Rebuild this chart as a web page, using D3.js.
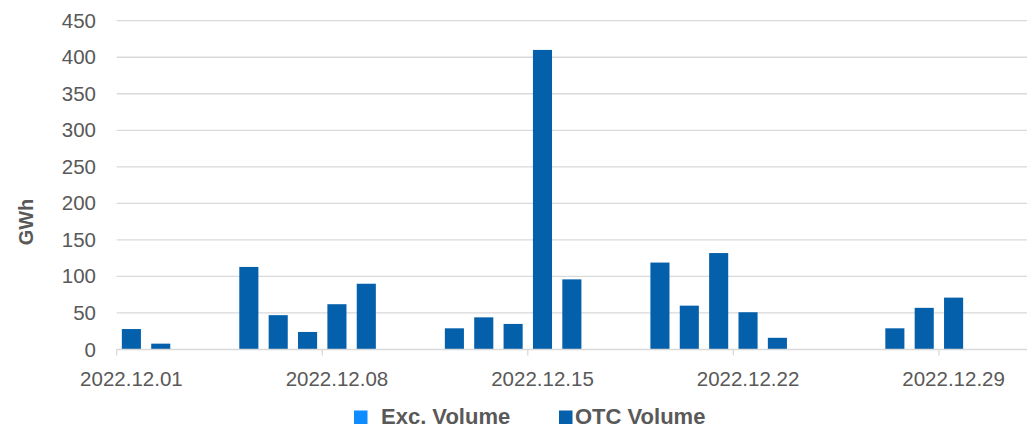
<!DOCTYPE html>
<html>
<head>
<meta charset="utf-8">
<script src="https://cdn.jsdelivr.net/npm/d3@7"></script>
<style>
  html, body { margin: 0; padding: 0; background: #ffffff; }
  svg { display: block; }
  text { font-family: "Liberation Sans", Arial, sans-serif; fill: #595959; }
</style>
</head>
<body>
<svg id="chart" width="1035" height="428"></svg>
<script>
// ---- data ----
const dates = ["2022.12.01","2022.12.02","2022.12.03","2022.12.04","2022.12.05","2022.12.06","2022.12.07",
  "2022.12.08","2022.12.09","2022.12.10","2022.12.11","2022.12.12","2022.12.13","2022.12.14",
  "2022.12.15","2022.12.16","2022.12.17","2022.12.18","2022.12.19","2022.12.20","2022.12.21",
  "2022.12.22","2022.12.23","2022.12.24","2022.12.25","2022.12.26","2022.12.27","2022.12.28",
  "2022.12.29","2022.12.30","2022.12.31"];
const excVolume = [0,0,0,0,0,0,0, 0,0,0,0,0,0,0, 0,0,0,0,0,0,0, 0,0,0,0,0,0,0, 0,0,0];
const otcVolume = [28,8,0,0,113,47,24, 62,90,0,0,29,44,35, 410,96,0,0,119,60,132, 51,16,0,0,0,29,57, 71,0,0];
const xTickLabels = ["2022.12.01","2022.12.08","2022.12.15","2022.12.22","2022.12.29"];
const yTicks = [0,50,100,150,200,250,300,350,400,450];
const seriesNames = ["Exc. Volume","OTC Volume"];
const seriesColors = ["#0F8CFF","#0560AC"];

// ---- layout ----
const svg = d3.select("#chart");
const pLeft = 116.7, pRight = 1027, pTop = 20.7, pBottom = 349.5;

const x = d3.scaleBand().domain(dates).range([pLeft, pRight])
  .paddingInner(0.35).paddingOuter(0.175);
const y = d3.scaleLinear().domain([0, 450]).range([pBottom, pTop]);

// gridlines
svg.append("g").selectAll("line").data(yTicks.filter(d => d > 0)).join("line")
  .attr("x1", pLeft).attr("x2", pRight)
  .attr("y1", d => y(d)).attr("y2", d => y(d))
  .attr("stroke", "#d9d9d9").attr("stroke-width", 1.3);

// y axis labels
const yAxis = d3.axisLeft(y).tickValues(yTicks).tickSize(0).tickPadding(0);
const gy = svg.append("g").attr("transform", `translate(96,0)`).call(yAxis);
gy.select(".domain").remove();
gy.selectAll("text").attr("font-size", 20.5).attr("fill", "#595959")
  .style("font-family", '"Liberation Sans", Arial, sans-serif');

// stacked bars
const stackData = dates.map((d, i) => ({date: d, exc: excVolume[i], otc: otcVolume[i]}));
const stack = d3.stack().keys(["exc","otc"])(stackData);
svg.append("g").selectAll("g").data(stack).join("g")
  .attr("fill", (d, i) => seriesColors[i])
  .selectAll("rect").data(d => d).join("rect")
  .attr("x", d => x(d.data.date))
  .attr("width", x.bandwidth())
  .attr("y", d => y(d[1]))
  .attr("height", d => Math.max(0, y(d[0]) - y(d[1])));

// x axis line
svg.append("line").attr("x1", pLeft).attr("x2", pRight)
  .attr("y1", pBottom).attr("y2", pBottom)
  .attr("stroke", "#d9d9d9").attr("stroke-width", 1.3);

// x tick marks at band edges (weekly)
const edge = d => x(d) - x.step() * x.paddingOuter();
svg.append("g").selectAll("line").data(xTickLabels).join("line")
  .attr("x1", d => edge(d)).attr("x2", d => edge(d))
  .attr("y1", pBottom).attr("y2", pBottom + 6)
  .attr("stroke", "#d9d9d9").attr("stroke-width", 1.3);

// x labels centered on band
const xAxis = d3.axisBottom(x).tickValues(xTickLabels).tickSize(0).tickPadding(0);
const gx = svg.append("g").attr("transform", `translate(0,${pBottom})`).call(xAxis);
gx.select(".domain").remove();
gx.selectAll("text").attr("font-size", 20.5).attr("fill", "#595959")
  .attr("dy", null).attr("y", 36.5)
  .style("font-family", '"Liberation Sans", Arial, sans-serif');

// y axis title
svg.append("text")
  .attr("transform", "translate(32.5,222) rotate(-90)")
  .attr("text-anchor", "middle")
  .attr("font-size", 20).attr("font-weight", "bold")
  .text("GWh");

// legend
const legendItems = [{name: seriesNames[0], color: seriesColors[0], sx: 354, tx: 381},
                     {name: seriesNames[1], color: seriesColors[1], sx: 559, tx: 575}];
const lg = svg.append("g");
legendItems.forEach(it => {
  lg.append("rect").attr("x", it.sx).attr("y", 410.5).attr("width", 13.5).attr("height", 13.5).attr("fill", it.color);
  lg.append("text").attr("x", it.tx).attr("y", 423.5).attr("font-size", 22).attr("font-weight", "bold").text(it.name);
});
</script>
</body>
</html>
